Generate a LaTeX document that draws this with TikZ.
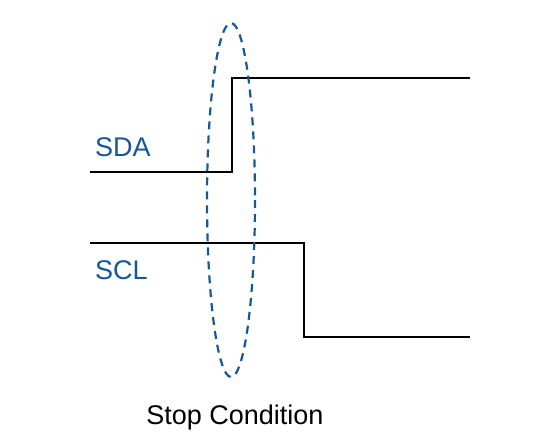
\documentclass[tikz,border=0pt]{standalone}
\usepackage{fontspec}
\setmainfont{Liberation Sans}
\usepackage{tikz}
\definecolor{sigblue}{RGB}{20,88,150}
\tikzstyle{signame} = [text=sigblue, font=\fontsize{27}{30}\selectfont, anchor=west, inner sep=0pt]
\tikzstyle{caption} = [font=\fontsize{27}{30}\selectfont, inner sep=0pt]
\tikzstyle{wire} = [draw, black, line width=2.4pt]
\tikzstyle{marker} = [draw=sigblue, line width=2.2pt, dash pattern=on 8pt off 6pt]

\begin{document}
\begin{tikzpicture}[x=1pt, y=-1pt]
    \useasboundingbox (0,0) rectangle (554,447);
    % Place nodes
    \node [signame] (sda) at (95,147) {SDA};
    \node [signame] (scl) at (95,270) {SCL};
    \node [caption] (stop) at (235,418) {Stop Condition};
    \coordinate (sdastart) at (90,172);
    \coordinate (sdalow) at (232,172);
    \coordinate (sdahigh) at (232,78);
    \coordinate (sdaend) at (470,78);
    \coordinate (sclstart) at (90,243);
    \coordinate (sclhigh) at (304,243);
    \coordinate (scllow) at (304,337);
    \coordinate (sclend) at (470,337);
    \coordinate (mark) at (231,200);
    % Draw edges
    \path [wire] (sdastart) -- (sdalow) -- (sdahigh) -- (sdaend);
    \path [wire] (sclstart) -- (sclhigh) -- (scllow) -- (sclend);
    \path [marker] (mark) ellipse [x radius=24, y radius=177];
\end{tikzpicture}
\end{document}
